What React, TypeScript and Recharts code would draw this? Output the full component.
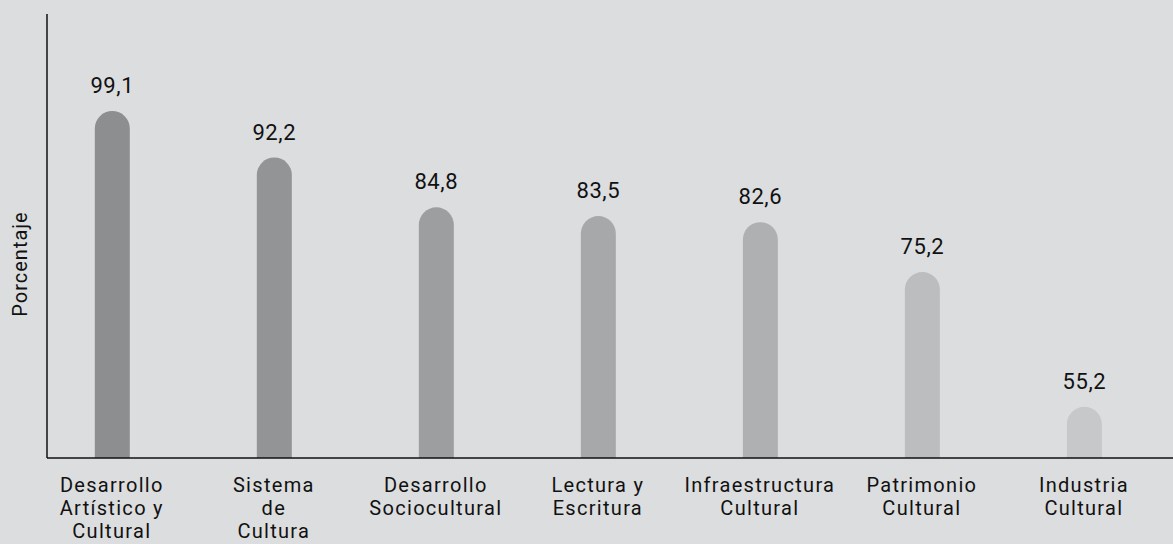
import React from "react";
import { BarChart, Bar, XAxis, YAxis, LabelList, Cell, Label } from "recharts";

const categories = [
    "Desarrollo\nArtístico y\nCultural",
    "Sistema\nde\nCultura",
    "Desarrollo\nSociocultural",
    "Lectura y\nEscritura",
    "Infraestructura\nCultural",
    "Patrimonio\nCultural",
    "Industria\nCultural",
];
const values = [99.1, 92.2, 84.8, 83.5, 82.6, 75.2, 55.2];
const barColors = ["#8d8e90", "#939496", "#9d9ea0", "#a7a8aa", "#afb0b2", "#bcbdbf", "#c7c8ca"];

const data = categories.map((name, i) => ({ idx: i, name, value: values[i] }));

const FONT = "Roboto, 'DejaVu Sans', sans-serif";

function CategoryTick(props: any) {
    const { x, y, payload } = props;
    const lines = categories[payload.value].split("\n");
    return (
        <text x={x} y={y} textAnchor="middle" fill="#111" fontFamily={FONT} fontSize={20} letterSpacing={1.3}>
            {lines.map((l, k) => (
                <tspan key={k} x={x} y={y + 26 + k * 23}>
                    {l}
                </tspan>
            ))}
        </text>
    );
}

export default function App() {
    return (
        <div style={{ position: "absolute", left: 0, top: 0, width: 1173, height: 544, background: "#dcdddf" }}>
            <BarChart width={1173} height={544} data={data} margin={{ top: 14, right: 0, left: 0, bottom: 0 }}>
                <XAxis
                    type="number"
                    dataKey="idx"
                    domain={[-0.4, 6.55]}
                    ticks={[0, 1, 2, 3, 4, 5, 6]}
                    tick={<CategoryTick />}
                    tickLine={false}
                    axisLine={{ stroke: "#111", strokeWidth: 1.5 }}
                    height={86}
                    interval={0}
                />
                <YAxis
                    domain={[47.6, 113.5]}
                    tick={false}
                    tickLine={false}
                    axisLine={{ stroke: "#111", strokeWidth: 1.5 }}
                    width={47}
                >
                    <Label
                        content={() => (
                            <text
                                x={20}
                                y={264}
                                transform="rotate(-90 20 264)"
                                textAnchor="middle"
                                dominantBaseline="central"
                                fontFamily={FONT}
                                fontSize={20}
                                letterSpacing={1}
                                fill="#111"
                            >
                                Porcentaje
                            </text>
                        )}
                    />
                </YAxis>
                <Bar dataKey="value" barSize={35} radius={[17.5, 17.5, 0, 0]} isAnimationActive={false}>
                    {data.map((d, i) => (
                        <Cell key={d.name} fill={barColors[i]} />
                    ))}
                    <LabelList
                        dataKey="value"
                        position="top"
                        offset={18}
                        formatter={(v: any) => Number(v).toFixed(1).replace(".", ",")}
                        fill="#111"
                        fontFamily={FONT}
                        fontSize={22}
                        letterSpacing={0.6}
                    />
                </Bar>
            </BarChart>
        </div>
    );
}
